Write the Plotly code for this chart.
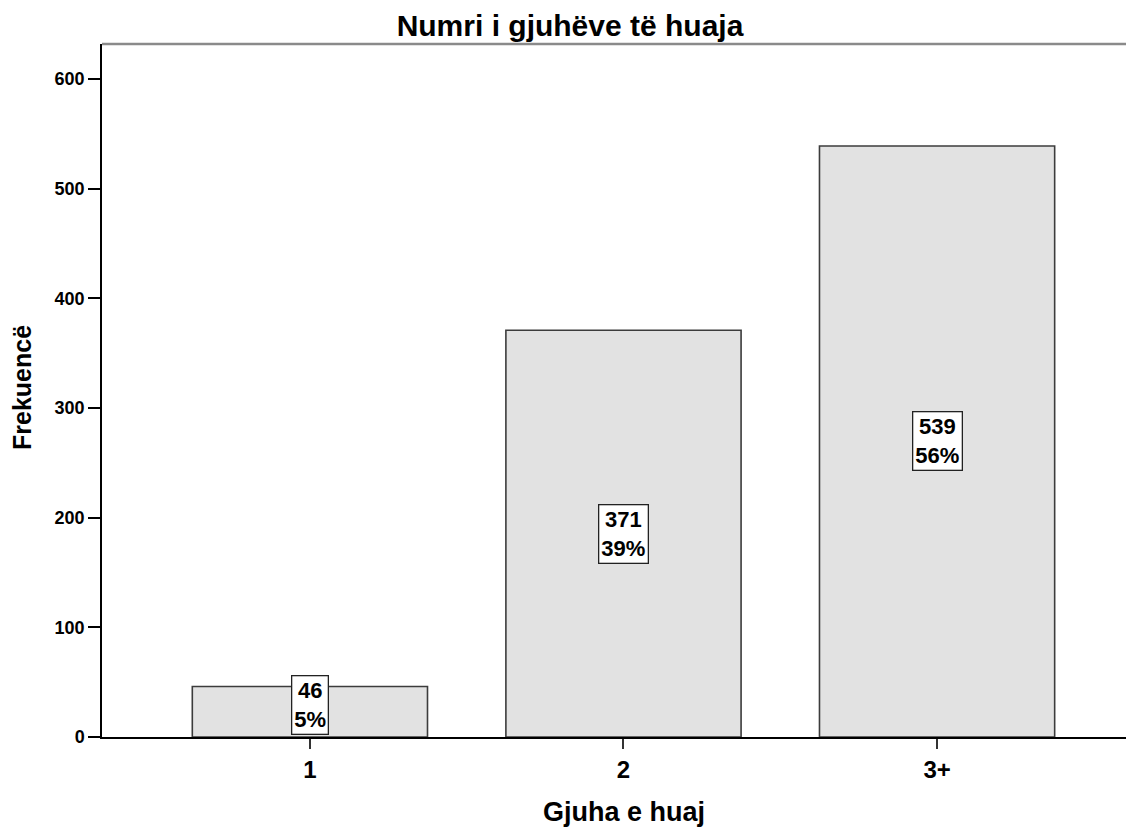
import plotly.graph_objects as go

categories = ["1", "2", "3+"]
counts = [46, 371, 539]
percents = [5, 39, 56]
y_ticks = [0, 100, 200, 300, 400, 500, 600]

title_text = "Numri i gjuhëve të huaja"
x_title = "Gjuha e huaj"
y_title = "Frekuencë"

# page has an 8px body margin, so the figure is 8px smaller than the window
W, H = 1126, 821
ML, MR, MT, MB = 94, 0, 36, 92
Y_MAX = 632
plot_h = H - MT - MB
plot_w = W - ML - MR
px_per_unit = plot_h / Y_MAX
FONT = "Liberation Sans, Arial, sans-serif"

fig = go.Figure()
fig.add_trace(go.Bar(
    x=categories, y=counts, width=0.75,
    marker=dict(color="#e2e2e2", line=dict(color="#3c3c3c", width=1.6)),
    hoverinfo="skip",
))

label_font = dict(family=FONT, size=22, color="black")
box_half = 30
for i, (v, p) in enumerate(zip(counts, percents)):
    mid_px = v / 2 * px_per_unit
    if mid_px < box_half + 3:
        y, anchor, shift = 0, "bottom", 2
    else:
        y, anchor, shift = v / 2, "middle", 0
    fig.add_annotation(
        x=i, y=y, yanchor=anchor, yshift=shift, xref="x", yref="y",
        text=f"<b>{v}<br>{p}%</b>", showarrow=False,
        font=label_font, bgcolor="white", bordercolor="#222", borderwidth=1.3,
        borderpad=2, align="center",
    )

# axis titles
fig.add_annotation(text=f"<b>{x_title}</b>", xref="paper", yref="paper",
                   x=(624 - 8 - ML) / plot_w, y=-(812 - 8 - (H - MB)) / plot_h, yanchor="middle",
                   showarrow=False, font=dict(family=FONT, size=27, color="black"))
fig.add_annotation(text=f"<b>{y_title}</b>", xref="paper", yref="paper",
                   x=-(ML - 14) / plot_w, xanchor="center",
                   y=1 - (388 - 8 - MT) / plot_h, yanchor="middle", textangle=-90,
                   showarrow=False, font=dict(family=FONT, size=25, color="black"))

fig.add_shape(type="line", xref="paper", yref="paper", x0=0, x1=1, y0=1, y1=1,
              line=dict(color="#8a8a8a", width=2.5))

fig.update_layout(
    width=W, height=H,
    margin=dict(l=ML, r=MR, t=MT, b=MB),
    paper_bgcolor="white", plot_bgcolor="white",
    showlegend=False,
    title=dict(text=f"<b>{title_text}</b>", x=562 / W, xanchor="center",
               y=1 - 17 / H, yanchor="middle", yref="container",
               font=dict(family=FONT, size=30, color="black")),
    xaxis=dict(
        type="category", range=[-0.663, 2.628],
        showline=True, linecolor="black", linewidth=1.5,
        ticks="outside", ticklen=10, tickwidth=1.5, tickcolor="#333",
        tickfont=dict(family=FONT, size=24, color="black", weight="bold"),
        showgrid=False, zeroline=False,
    ),
    yaxis=dict(
        range=[0, Y_MAX], tickvals=y_ticks,
        showline=True, linecolor="black", linewidth=1.5,
        ticks="outside", ticklen=12, tickwidth=1.5, tickcolor="black",
        tickfont=dict(family=FONT, size=18, color="black", weight="bold"),
        showgrid=False, zeroline=False,
    ),
)

fig.write_html("out.html")
